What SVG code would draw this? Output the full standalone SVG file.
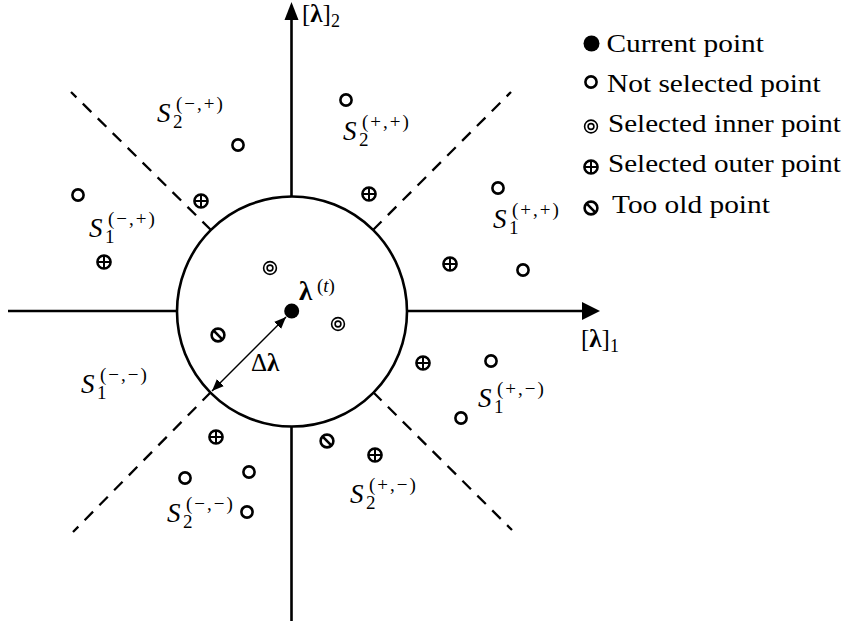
<svg xmlns="http://www.w3.org/2000/svg" xmlns:xlink="http://www.w3.org/1999/xlink" width="843" height="626" viewBox="0 0 843 626">
<style>
.lg{font-size:26px}
.axis{stroke:#000;stroke-width:2.6;fill:none}
.dash{stroke:#000;stroke-width:2.3;fill:none;stroke-dasharray:12 9}
.thin{stroke:#000;stroke-width:1.4;fill:none}
.f1{font-family:"Liberation Serif"}
</style>
<defs>
<marker id="ah" viewBox="0 0 12 10" refX="12" refY="5" markerWidth="12" markerHeight="10" markerUnits="userSpaceOnUse" orient="auto-start-reverse"><path d="M0,0 L12,5 L0,10 z" fill="#000"/></marker>
<g id="pOpen"><circle r="5.6" fill="#fff" stroke="#000" stroke-width="2.6"/></g>
<g id="pInner"><circle r="6.4" fill="#fff" stroke="#000" stroke-width="1.6"/><circle r="2.9" fill="none" stroke="#000" stroke-width="1.6"/></g>
<g id="pOuter"><circle r="6.6" fill="#fff" stroke="#000" stroke-width="2.5"/><path d="M-6.6,0H6.6M0,-6.6V6.6" stroke="#000" stroke-width="2"/></g>
<g id="pOld"><circle r="6.4" fill="#fff" stroke="#000" stroke-width="2.6"/><path d="M-4.3,-4.3L4.3,4.3" stroke="#000" stroke-width="2.6"/></g>
</defs>
<rect width="843" height="626" fill="#fff"/>

<g id="connectors">
<path class="axis" d="M291.5,18V197M291.5,426V621"/>
<polygon points="291.5,2 284.5,20 298.5,20" fill="#000"/>
<path class="axis" d="M8,311H177M407,311H584"/>
<polygon points="600,311 582,302 582,320" fill="#000"/>
<path class="dash" d="M211,230L71,92"/>
<path class="dash" d="M373,230L511,92"/>
<path class="dash" d="M373,392L512,530"/>
<path class="dash" d="M211,392L73,532"/>
<line class="thin" x1="212" y1="391" x2="286" y2="317" marker-start="url(#ah)" marker-end="url(#ah)"/>
</g>

<g id="trust-region"><circle cx="292" cy="311.5" r="115" fill="none" stroke="#000" stroke-width="2.6"/></g>
<g id="current-point"><circle cx="291.7" cy="311" r="7.5" fill="#000"/></g>

<g id="points">
<use xlink:href="#pOpen" x="346" y="100"/>
<use xlink:href="#pOpen" x="238" y="145"/>
<use xlink:href="#pOpen" x="78" y="195"/>
<use xlink:href="#pOpen" x="498" y="188"/>
<use xlink:href="#pOpen" x="523" y="270"/>
<use xlink:href="#pOpen" x="491" y="361"/>
<use xlink:href="#pOpen" x="461" y="418"/>
<use xlink:href="#pOpen" x="185" y="478"/>
<use xlink:href="#pOpen" x="249" y="472"/>
<use xlink:href="#pOpen" x="247" y="512"/>
<use xlink:href="#pOuter" x="201" y="201"/>
<use xlink:href="#pOuter" x="104" y="262"/>
<use xlink:href="#pOuter" x="369" y="194"/>
<use xlink:href="#pOuter" x="450" y="264"/>
<use xlink:href="#pOuter" x="423" y="363"/>
<use xlink:href="#pOuter" x="375" y="455"/>
<use xlink:href="#pOuter" x="216" y="437"/>
<use xlink:href="#pInner" x="270" y="268"/>
<use xlink:href="#pInner" x="338" y="324"/>
<use xlink:href="#pOld" x="218" y="335"/>
<use xlink:href="#pOld" x="327" y="441"/>
</g>

<g id="labels">
<text class="f1" font-family="Liberation Serif" font-size="25" x="302" y="21.5">[<tspan class="f1" font-weight="bold">λ</tspan>]<tspan class="f1" font-size="18" dy="5">2</tspan></text>
<text class="f1" font-family="Liberation Serif" font-size="25" x="581" y="347">[<tspan class="f1" font-weight="bold">λ</tspan>]<tspan class="f1" font-size="18" dy="5">1</tspan></text>
<text class="f1" font-family="Liberation Serif" font-size="27" font-weight="bold" x="299" y="300">λ</text>
<text class="f1" font-family="Liberation Serif" font-size="19" x="317" y="292">(<tspan class="f1" font-style="italic">t</tspan>)</text>
<text class="f1" font-family="Liberation Serif" font-size="25" x="251" y="371">Δ<tspan class="f1" font-weight="bold">λ</tspan></text>
</g>

<g id="regions">
<g id="S2mp"><text class="f1" font-family="Liberation Serif" font-size="27" font-style="italic" x="157" y="122">S</text><text class="f1" font-family="Liberation Serif" font-size="19" x="173" y="128">2</text><text class="f1" font-family="Liberation Serif" font-size="19" letter-spacing="2" x="176" y="110">(−,+)</text></g>
<g id="S1mp"><text class="f1" font-family="Liberation Serif" font-size="27" font-style="italic" x="89" y="237">S</text><text class="f1" font-family="Liberation Serif" font-size="19" x="105" y="243">1</text><text class="f1" font-family="Liberation Serif" font-size="19" letter-spacing="2" x="108" y="225">(−,+)</text></g>
<g id="S2pp"><text class="f1" font-family="Liberation Serif" font-size="27" font-style="italic" x="343" y="140">S</text><text class="f1" font-family="Liberation Serif" font-size="19" x="359" y="146">2</text><text class="f1" font-family="Liberation Serif" font-size="19" letter-spacing="2" x="362" y="128">(+,+)</text></g>
<g id="S1pp"><text class="f1" font-family="Liberation Serif" font-size="27" font-style="italic" x="493" y="228">S</text><text class="f1" font-family="Liberation Serif" font-size="19" x="509" y="234">1</text><text class="f1" font-family="Liberation Serif" font-size="19" letter-spacing="2" x="512" y="216">(+,+)</text></g>
<g id="S1mm"><text class="f1" font-family="Liberation Serif" font-size="27" font-style="italic" x="81" y="393">S</text><text class="f1" font-family="Liberation Serif" font-size="19" x="97" y="399">1</text><text class="f1" font-family="Liberation Serif" font-size="19" letter-spacing="2" x="100" y="381">(−,−)</text></g>
<g id="S1pm"><text class="f1" font-family="Liberation Serif" font-size="27" font-style="italic" x="478" y="407">S</text><text class="f1" font-family="Liberation Serif" font-size="19" x="494" y="413">1</text><text class="f1" font-family="Liberation Serif" font-size="19" letter-spacing="2" x="497" y="395">(+,−)</text></g>
<g id="S2pm"><text class="f1" font-family="Liberation Serif" font-size="27" font-style="italic" x="350" y="503">S</text><text class="f1" font-family="Liberation Serif" font-size="19" x="366" y="509">2</text><text class="f1" font-family="Liberation Serif" font-size="19" letter-spacing="2" x="369" y="491">(+,−)</text></g>
<g id="S2mm"><text class="f1" font-family="Liberation Serif" font-size="27" font-style="italic" x="167" y="522">S</text><text class="f1" font-family="Liberation Serif" font-size="19" x="183" y="528">2</text><text class="f1" font-family="Liberation Serif" font-size="19" letter-spacing="2" x="186" y="510">(−,−)</text></g>
</g>

<g id="legend">
<g id="lg-current"><circle cx="591.5" cy="43.5" r="8" fill="#000"/><text class="lg f1" font-family="Liberation Serif" transform="translate(606.5,52) scale(1.13,1)">Current point</text></g>
<g id="lg-not"><use xlink:href="#pOpen" x="591" y="82"/><text class="lg f1" font-family="Liberation Serif" transform="translate(607,91.5) scale(1.13,1)">Not selected point</text></g>
<g id="lg-inner"><use xlink:href="#pInner" x="591" y="126.5"/><text class="lg f1" font-family="Liberation Serif" transform="translate(608,131.5) scale(1.12,1)">Selected inner point</text></g>
<g id="lg-outer"><use xlink:href="#pOuter" x="591" y="167"/><text class="lg f1" font-family="Liberation Serif" transform="translate(608,171.5) scale(1.12,1)">Selected outer point</text></g>
<g id="lg-old"><use xlink:href="#pOld" x="591" y="208"/><text class="lg f1" font-family="Liberation Serif" transform="translate(612,212.5) scale(1.13,1)">Too old point</text></g>
</g>
</svg>
